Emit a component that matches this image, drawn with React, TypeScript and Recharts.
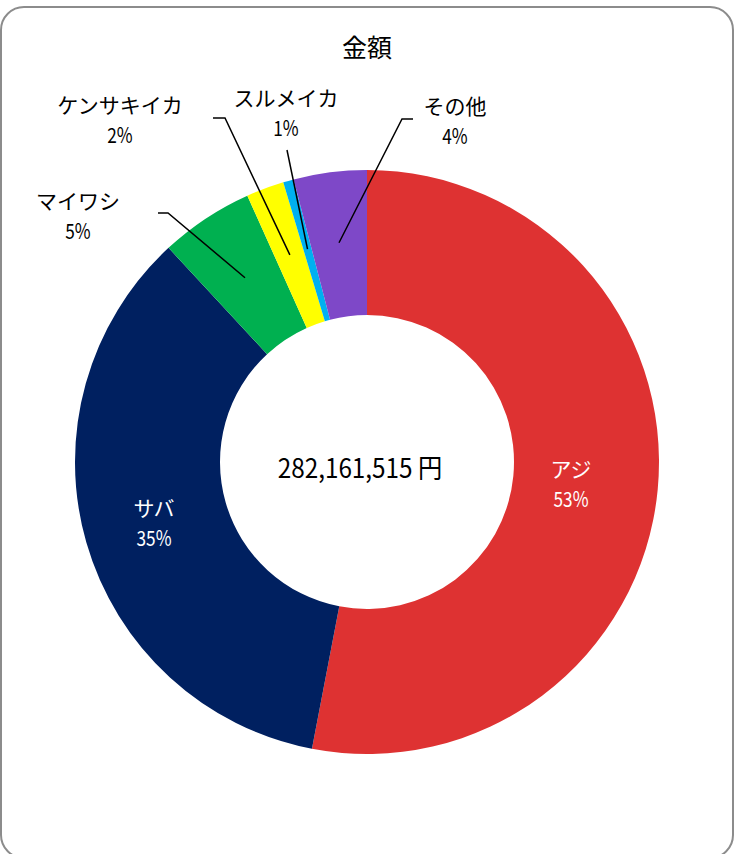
import React from "react";
import { PieChart, Pie, Cell } from "recharts";

const categories = ["アジ", "サバ", "マイワシ", "ケンサキイカ", "スルメイカ", "その他"];
const amounts = [149600000, 99000000, 14600000, 5900000, 1650000, 11411515];
const colors = ["#DE3232", "#002060", "#00B050", "#FFFF00", "#00B0F0", "#7E48C8"];
const title = "金額";
const unit = "円";

const total = amounts.reduce((a, b) => a + b, 0);
const data = categories.map((name, i) => ({ name, value: amounts[i] }));

// label placement (offsets from the pie centre), like manually dragged Excel labels
const labelLayout: { dx: number; dy: number; inside?: boolean; leader?: number[][] }[] = [
  { dx: 204, dy: 21, inside: true },
  { dx: -213, dy: 60, inside: true },
  { dx: -289, dy: -247, leader: [[-199, -249], [-209, -249]] },
  { dx: -247, dy: -343, leader: [[-142, -344], [-154, -344]] },
  { dx: -81, dy: -350, leader: [[-80, -312]] },
  { dx: 88, dy: -341.5, leader: [[35, -343], [46, -343]] },
];

const FONT = "'Noto Sans CJK JP', 'Noto Sans', sans-serif";
const RAD = Math.PI / 180;

const renderLabel = (props: any) => {
  const { cx, cy, midAngle, innerRadius, outerRadius, index, value } = props;
  const lay = labelLayout[index];
  const pct = Math.round((value / total) * 100) + "%";
  const x = cx + lay.dx;
  const y = cy + lay.dy;
  const fill = lay.inside ? "#FFFFFF" : "#000000";
  let line = null;
  if (lay.leader) {
    const r = (innerRadius + outerRadius) / 2 + 1.5;
    const px = cx + r * Math.cos(-midAngle * RAD);
    const py = cy + r * Math.sin(-midAngle * RAD);
    const pts = [[px, py], ...lay.leader.map(([a, b]) => [cx + a, cy + b])];
    line = (
      <polyline
        points={pts.map((p) => p.join(",")).join(" ")}
        fill="none"
        stroke="#000"
        strokeWidth={1.5}
      />
    );
  }
  return (
    <g key={"lbl" + index}>
      {line}
      <text x={x} y={y - 15.5} textAnchor="middle" dominantBaseline="central" fill={fill} fontSize={21} fontFamily={FONT}>
        {categories[index]}
      </text>
      <text
        transform={`translate(${x},${y + 15}) scale(0.82,1)`}
        x={0}
        y={0}
        textAnchor="middle"
        dominantBaseline="central"
        fill={fill}
        fontSize={21}
        fontFamily={FONT}
      >
        {pct}
      </text>
    </g>
  );
};

export default function App() {
  return (
    <div style={{ position: "absolute", left: 0, top: 0, width: 736, height: 854, overflow: "hidden", background: "#fff" }}>
      <div
        style={{
          position: "absolute",
          left: 0,
          top: 5.5,
          width: 734,
          height: 853.5,
          border: "2px solid #8C8C8C",
          borderRadius: 24,
          boxSizing: "border-box",
        }}
      />
      <div style={{ position: "absolute", left: 0, top: 0 }}>
        <PieChart width={736} height={854} margin={{ top: 0, right: 0, bottom: 0, left: 0 }}>
          <text x={367} y={46} textAnchor="middle" dominantBaseline="central" fontSize={25} fontFamily={FONT} fill="#000">
            {title}
          </text>
          <Pie
            data={data}
            dataKey="value"
            nameKey="name"
            cx={367}
            cy={462}
            innerRadius={147}
            outerRadius={292}
            startAngle={90}
            endAngle={-270}
            stroke="none"
            isAnimationActive={false}
            label={renderLabel}
            labelLine={false}
          >
            {data.map((d, i) => (
              <Cell key={d.name} fill={colors[i]} />
            ))}
          </Pie>
          <text
            transform="translate(360,466) scale(0.9,1)"
            x={0}
            y={0}
            textAnchor="middle"
            dominantBaseline="central"
            fontSize={27}
            fontFamily={FONT}
            fill="#000"
          >
            {total.toLocaleString("en-US") + " " + unit}
          </text>
        </PieChart>
      </div>
    </div>
  );
}
